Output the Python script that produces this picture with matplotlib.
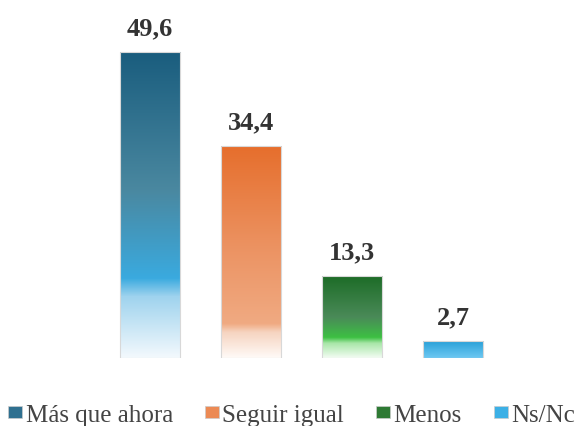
import numpy as np
import matplotlib
matplotlib.use("Agg")
import matplotlib.pyplot as plt
from matplotlib.colors import LinearSegmentedColormap
from matplotlib.patches import Patch
from matplotlib.font_manager import FontProperties

categories = ["Más que ahora", "Seguir igual", "Menos", "Ns/Nc"]
values = [49.6, 34.4, 13.3, 2.7]
labels = ["49,6", "34,4", "13,3", "2,7"]

gradients = [
    [(0.0, "#1a5d7e"), (0.45, "#4a88a0"), (0.74, "#3aaadf"), (0.80, "#9fd3ee"), (1.0, "#f3f9fd")],
    [(0.0, "#e66e2c"), (0.5, "#ec9464"), (0.84, "#f0aa82"), (0.88, "#f6d4c0"), (1.0, "#fffaf7")],
    [(0.0, "#1d6c27"), (0.5, "#4a8a58"), (0.75, "#3dc043"), (0.82, "#a8e6a8"), (1.0, "#f3fcf3")],
    [(0.0, "#28a0d8"), (1.0, "#6ec8f2")],
]
legend_colors = ["#2f7090", "#ec8a54", "#2e7a34", "#3cb0e6"]

plt.rcParams['font.family'] = 'serif'
plt.rcParams['font.serif'] = ['Liberation Serif', 'DejaVu Serif']

fig = plt.figure(figsize=(5.83, 4.27), dpi=100)
ax = fig.add_axes([99.5 / 583, 68 / 427, 404 / 583, 339 / 427])
ax.set_xlim(-0.5, 3.5)
ax.set_ylim(0, 55)
ax.axis("off")

x = np.arange(len(values))
bars = ax.bar(x, values, width=0.6, color="none", edgecolor="#d8d8d8", linewidth=0.8, zorder=3)

for bar, stops in zip(bars, gradients):
    cmap = LinearSegmentedColormap.from_list("g", stops)
    grad = np.linspace(0, 1, 256).reshape(-1, 1)
    x0, y0 = bar.get_x(), bar.get_y()
    w, h = bar.get_width(), bar.get_height()
    im = ax.imshow(grad, cmap=cmap, aspect="auto", extent=[x0, x0 + w, y0, y0 + h],
                   origin="upper", zorder=2, interpolation="bilinear")
    im.set_clip_path(bar)

vfont = FontProperties(family=['Liberation Serif', 'DejaVu Serif'], weight='bold', size=19)
for xi, v, lab in zip(x, values, labels):
    ax.annotate(lab, (xi, v), xytext=(0, 18), textcoords="offset pixels",
                ha="center", va="baseline", fontproperties=vfont, color="#333333")

lfont = FontProperties(family=['Liberation Serif', 'DejaVu Serif'], size=18)
handles = [Patch(facecolor=c, edgecolor="#cccccc", linewidth=0.5) for c in legend_colors]
fig.legend(handles, categories, loc="lower left", bbox_to_anchor=(8 / 583, 0.0), ncol=4,
           frameon=False, prop=lfont, handlelength=0.55, handleheight=0.4,
           handletextpad=0.15, columnspacing=1.28, labelcolor="#444444",
           borderaxespad=0.0, borderpad=0.0)

fig.savefig("out.png", dpi=100)
